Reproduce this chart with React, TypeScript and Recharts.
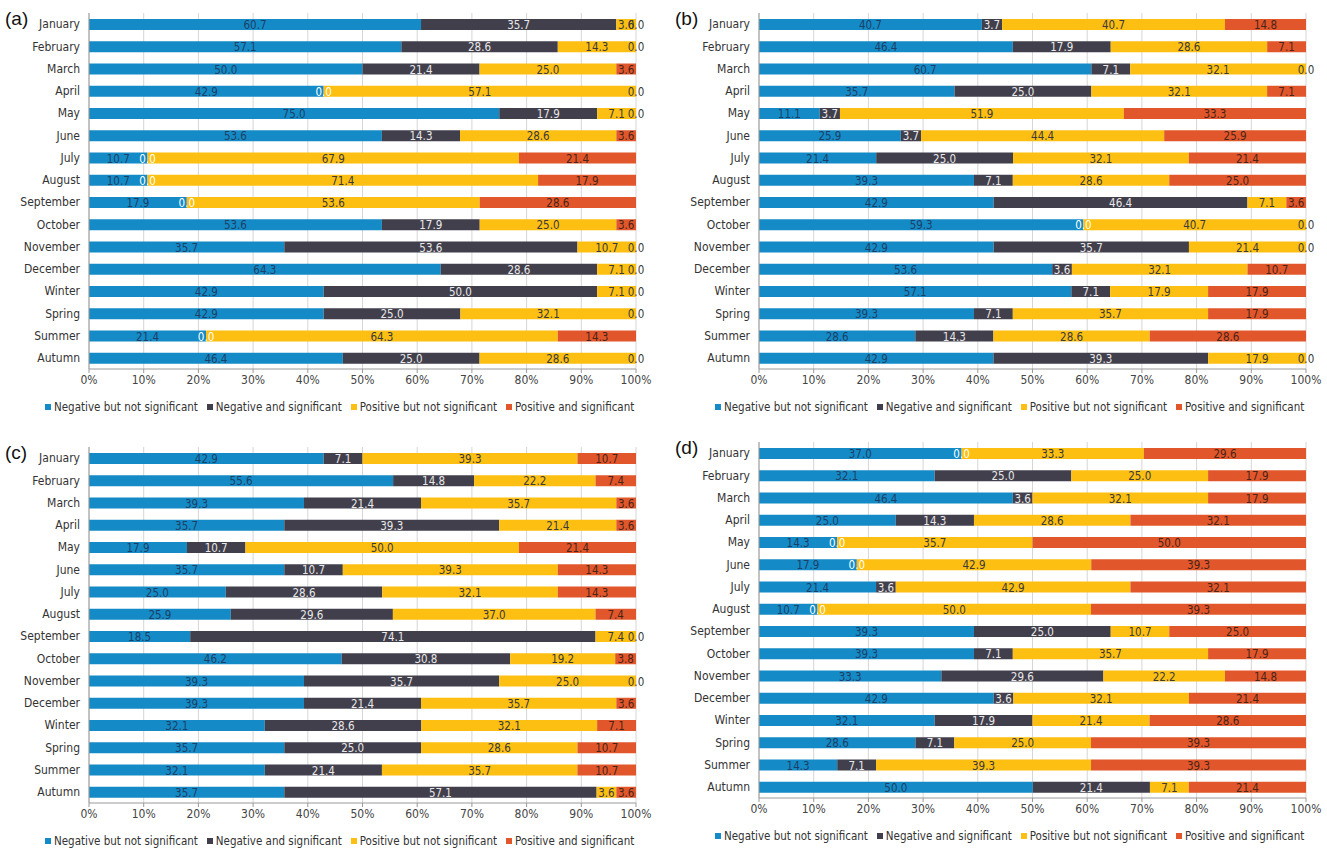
import { Bar, BarChart, CartesianGrid, LabelList, Legend, XAxis, YAxis } from "recharts";

const periods = [
  "January", "February", "March", "April", "May", "June", "July", "August",
  "September", "October", "November", "December", "Winter", "Spring", "Summer", "Autumn",
];

const seriesNames = [
  "Negative but not significant",
  "Negative and significant",
  "Positive but not significant",
  "Positive and significant",
];

const xTicks = [0, 0.1, 0.2, 0.3, 0.4, 0.5, 0.6, 0.7, 0.8, 0.9, 1];

// panel (a)
const aNegNs = [60.7, 57.1, 50.0, 42.9, 75.0, 53.6, 10.7, 10.7, 17.9, 53.6, 35.7, 64.3, 42.9, 42.9, 21.4, 46.4];
const aNegSig = [35.7, 28.6, 21.4, 0.0, 17.9, 14.3, 0.0, 0.0, 0.0, 17.9, 53.6, 28.6, 50.0, 25.0, 0.0, 25.0];
const aPosNs = [3.6, 14.3, 25.0, 57.1, 7.1, 28.6, 67.9, 71.4, 53.6, 25.0, 10.7, 7.1, 7.1, 32.1, 64.3, 28.6];
const aPosSig = [0.0, 0.0, 3.6, 0.0, 0.0, 3.6, 21.4, 17.9, 28.6, 3.6, 0.0, 0.0, 0.0, 0.0, 14.3, 0.0];

// panel (b)
const bNegNs = [40.7, 46.4, 60.7, 35.7, 11.1, 25.9, 21.4, 39.3, 42.9, 59.3, 42.9, 53.6, 57.1, 39.3, 28.6, 42.9];
const bNegSig = [3.7, 17.9, 7.1, 25.0, 3.7, 3.7, 25.0, 7.1, 46.4, 0.0, 35.7, 3.6, 7.1, 7.1, 14.3, 39.3];
const bPosNs = [40.7, 28.6, 32.1, 32.1, 51.9, 44.4, 32.1, 28.6, 7.1, 40.7, 21.4, 32.1, 17.9, 35.7, 28.6, 17.9];
const bPosSig = [14.8, 7.1, 0.0, 7.1, 33.3, 25.9, 21.4, 25.0, 3.6, 0.0, 0.0, 10.7, 17.9, 17.9, 28.6, 0.0];

// panel (c)
const cNegNs = [42.9, 55.6, 39.3, 35.7, 17.9, 35.7, 25.0, 25.9, 18.5, 46.2, 39.3, 39.3, 32.1, 35.7, 32.1, 35.7];
const cNegSig = [7.1, 14.8, 21.4, 39.3, 10.7, 10.7, 28.6, 29.6, 74.1, 30.8, 35.7, 21.4, 28.6, 25.0, 21.4, 57.1];
const cPosNs = [39.3, 22.2, 35.7, 21.4, 50.0, 39.3, 32.1, 37.0, 7.4, 19.2, 25.0, 35.7, 32.1, 28.6, 35.7, 3.6];
const cPosSig = [10.7, 7.4, 3.6, 3.6, 21.4, 14.3, 14.3, 7.4, 0.0, 3.8, 0.0, 3.6, 7.1, 10.7, 10.7, 3.6];

// panel (d)
const dNegNs = [37.0, 32.1, 46.4, 25.0, 14.3, 17.9, 21.4, 10.7, 39.3, 39.3, 33.3, 42.9, 32.1, 28.6, 14.3, 50.0];
const dNegSig = [0.0, 25.0, 3.6, 14.3, 0.0, 0.0, 3.6, 0.0, 25.0, 7.1, 29.6, 3.6, 17.9, 7.1, 7.1, 21.4];
const dPosNs = [33.3, 25.0, 32.1, 28.6, 35.7, 42.9, 42.9, 50.0, 10.7, 35.7, 22.2, 32.1, 21.4, 25.0, 39.3, 7.1];
const dPosSig = [29.6, 17.9, 17.9, 32.1, 50.0, 39.3, 32.1, 39.3, 25.0, 17.9, 14.8, 21.4, 28.6, 39.3, 39.3, 21.4];

const fills = ["#148bc6", "#423f4c", "#fdbf12", "#e1572b"];
const labelColors = ["#1d3f66", "#e8e8e8", "#3a3a3a", "#4a2418"];
const keys = ["negNs", "negSig", "posNs", "posSig"];

const FONT = '"Liberation Sans Narrow", "DejaVu Sans Condensed", "Liberation Sans", sans-serif';

type Row = { period: string; negNs: number; negSig: number; posNs: number; posSig: number };

const buildRows = (s: number[][]): Row[] =>
  periods.map((p, i) => ({
    period: p,
    negNs: s[0][i],
    negSig: s[1][i],
    posNs: s[2][i],
    posSig: s[3][i],
  }));

const valueText = (cx: number, cy: number, color: string, v: number, key?: string) => (
  <text
    key={key}
    x={cx}
    y={cy + 0.5}
    fill={color}
    fontSize={11.5}
    fontFamily={FONT}
    textAnchor="middle"
    dominantBaseline="central"
  >
    {v.toFixed(1)}
  </text>
);

const makeLabel = (color: string) => (props: any) => {
  const { x, y, width, height, value } = props;
  if (value === undefined || value === null || Number(value) === 0) return null;
  return valueText(Number(x) + Number(width) / 2, Number(y) + Number(height) / 2, color, Number(value));
};

// zero-size segments get their "0.0" drawn at the edge of the yellow segment
const makeZeroLabel = (rows: Row[], key: "negSig" | "posSig", color: string) => (props: any) => {
  const { x, y, width, height, index } = props;
  const row = rows[index];
  if (!row || row[key] !== 0) return null;
  const cx = key === "negSig" ? Number(x) : Number(x) + Number(width);
  return valueText(cx, Number(y) + Number(height) / 2, color, 0);
};

const renderLegend = () => (
  <div
    style={{
      display: "flex",
      paddingLeft: 45,
      fontFamily: FONT,
      fontSize: 11.5,
      color: "#333",
      alignItems: "center",
      height: 28,
    }}
  >
    {seriesNames.map((name, i) => (
      <div key={name} style={{ display: "flex", alignItems: "center", marginRight: 9 }}>
        <span
          style={{ width: 6, height: 6, background: fills[i], display: "inline-block", marginRight: 3 }}
        />
        <span>{name}</span>
      </div>
    ))}
  </div>
);

interface PanelProps {
  tag: string;
  left: number;
  top: number;
  series: number[][];
}

const Panel = ({ tag, left, top, series }: PanelProps) => {
  const rows = buildRows(series);
  return (
    <div style={{ position: "absolute", left, top, width: 660, height: 425 }}>
      <div
        style={{
          position: "absolute",
          left: 5,
          top: 8,
          fontFamily: '"Liberation Sans", Arial, sans-serif',
          fontSize: 19,
          color: "#111",
          zIndex: 2,
        }}
      >
        {tag}
      </div>
      <BarChart
        width={660}
        height={425}
        data={rows}
        layout="vertical"
        stackOffset="expand"
        barSize={11}
        margin={{ top: 13, right: 24, bottom: 4, left: 9 }}
      >
        <CartesianGrid horizontal={false} stroke="#d6d6d6" />
        <XAxis
          type="number"
          domain={[0, 1]}
          ticks={xTicks}
          tickFormatter={(v: number) => `${Math.round(v * 100)}%`}
          stroke="#9a9a9a"
          tick={{ fill: "#444", fontSize: 12, fontFamily: FONT }}
          tickSize={4}
          height={24}
          interval={0}
        />
        <YAxis
          type="category"
          dataKey="period"
          width={80}
          stroke="#9a9a9a"
          tickLine={false}
          tick={{ fill: "#333", fontSize: 12, fontFamily: FONT }}
          tickMargin={3}
          interval={0}
        />
        <Legend verticalAlign="bottom" height={28} content={renderLegend} wrapperStyle={{ left: 0, width: 660 }} />
        {keys.map((k, i) => (
          <Bar
            key={k}
            dataKey={k}
            name={seriesNames[i]}
            stackId="s"
            fill={fills[i]}
            isAnimationActive={false}
          >
            <LabelList dataKey={k} content={makeLabel(labelColors[i])} />
            {k === "posNs" && (
              <LabelList dataKey="negSig" content={makeZeroLabel(rows, "negSig", "#ffffff")} />
            )}
            {k === "posNs" && (
              <LabelList dataKey="posSig" content={makeZeroLabel(rows, "posSig", "#3a3a3a")} />
            )}
          </Bar>
        ))}
      </BarChart>
    </div>
  );
};

export default function App() {
  return (
    <div style={{ position: "absolute", left: 0, top: 0, width: 1327, height: 850, background: "#fff" }}>
      <Panel tag="(a)" left={0} top={0} series={[aNegNs, aNegSig, aPosNs, aPosSig]} />
      <Panel tag="(b)" left={670} top={0} series={[bNegNs, bNegSig, bPosNs, bPosSig]} />
      <Panel tag="(c)" left={0} top={434} series={[cNegNs, cNegSig, cPosNs, cPosSig]} />
      <Panel tag="(d)" left={670} top={429} series={[dNegNs, dNegSig, dPosNs, dPosSig]} />
    </div>
  );
}
